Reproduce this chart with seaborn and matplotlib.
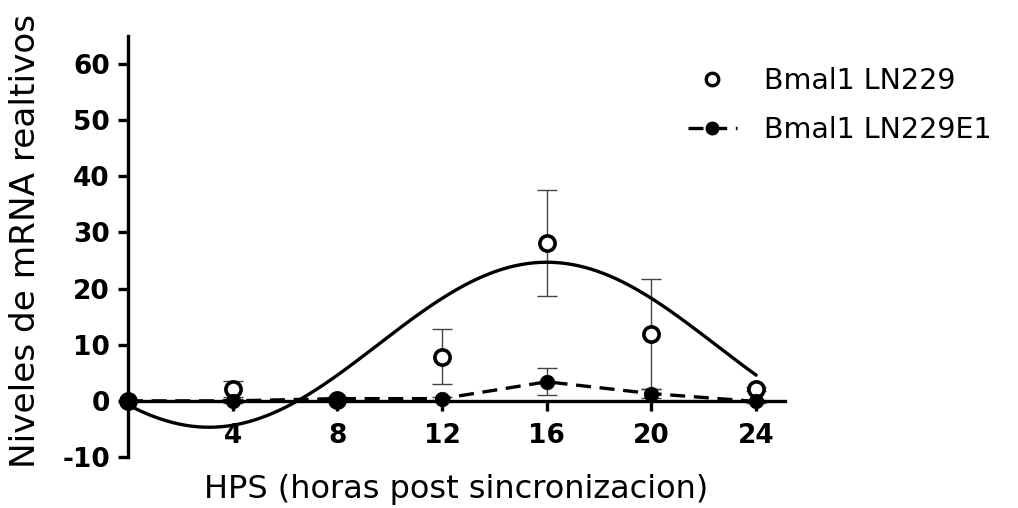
import numpy as np
import pandas as pd
import matplotlib
matplotlib.use("Agg")
import matplotlib.pyplot as plt
import seaborn as sns
from matplotlib.lines import Line2D

# ---- data ----
hours = [0, 4, 8, 12, 16, 20, 24]
ln229_mean = [0.0, 2.1, 0.2, 7.9, 28.1, 12.0, 2.1]
ln229_err = [0.0, 1.5, 0.3, 4.9, 9.4, 9.8, 0.3]
e1_mean = [0.0, 0.0, 0.4, 0.4, 3.4, 1.3, -0.1]
e1_err = [0.0, 0.3, 0.3, 0.3, 2.4, 0.8, 0.2]

# cosinor fit parameters of the LN229 curve (as drawn in the reference)
fit_mesor = 10.0
fit_amplitude = 14.7
fit_acrophase = 16.0
fit_period = 25.8

xtick_values = [4, 8, 12, 16, 20, 24]
ytick_values = [-10, 0, 10, 20, 30, 40, 50, 60]
labels = ["Bmal1 LN229", "Bmal1 LN229E1"]
xlabel = "HPS (horas post sincronizacion)"
ylabel = "Niveles de mRNA realtivos"

sns.set_theme(style="ticks")
plt.rcParams["font.family"] = ["DejaVu Sans"]
plt.rcParams["text.color"] = "black"
plt.rcParams["axes.labelcolor"] = "black"
plt.rcParams["xtick.color"] = "black"
plt.rcParams["ytick.color"] = "black"

fig = plt.figure(figsize=(10.18, 5.08), dpi=100)
ax = fig.add_axes([0.1257, 0.1004, 0.6454, 0.8287])

# fitted curve
t_fit = np.linspace(0, 24, 300)
y_fit = fit_mesor + fit_amplitude * np.cos(2 * np.pi * (t_fit - fit_acrophase) / fit_period)
curve = pd.DataFrame({"t": t_fit, "y": y_fit})
sns.lineplot(data=curve, x="t", y="y", ax=ax, color="black", lw=2.4, zorder=3)

# E1 dashed line
df_e1 = pd.DataFrame({"t": hours, "y": e1_mean})
sns.lineplot(data=df_e1, x="t", y="y", ax=ax, color="black", lw=2.4,
             linestyle=(0, (4.5, 2.6)), zorder=3)

# error bars
ax.errorbar(hours, ln229_mean, yerr=ln229_err, fmt="none", ecolor="#444444",
            elinewidth=1.0, capsize=7, capthick=1.0, zorder=2)
ax.errorbar(hours, e1_mean, yerr=e1_err, fmt="none", ecolor="#444444",
            elinewidth=1.0, capsize=7, capthick=1.0, zorder=2)

# markers
df_ln = pd.DataFrame({"t": hours, "y": ln229_mean})
sns.scatterplot(data=df_ln, x="t", y="y", ax=ax, marker="o", s=120,
                facecolor="white", edgecolor="black", linewidth=2.6,
                zorder=5, clip_on=False)
sns.scatterplot(data=df_e1, x="t", y="y", ax=ax, marker="o", s=110,
                color="black", edgecolor="black", linewidth=0.5,
                zorder=6, clip_on=False)

ax.spines["top"].set_visible(False)
ax.spines["right"].set_visible(False)
ax.spines["bottom"].set_position(("data", 0))
for s in ("left", "bottom"):
    ax.spines[s].set_linewidth(2.4)
    ax.spines[s].set_color("black")

ax.set_xlim(0, 25.1)
ax.set_ylim(-10, 65)
ax.set_xticks(xtick_values)
ax.set_yticks(ytick_values)
ax.set_xticklabels([str(v) for v in xtick_values], fontsize=19, fontweight="bold", color="black")
ax.set_yticklabels([str(v) for v in ytick_values], fontsize=19, fontweight="bold", color="black")
ax.tick_params(axis="both", direction="out", length=7, width=2.4, color="black")
ax.tick_params(axis="x", pad=9)
ax.tick_params(axis="y", pad=6)

ax.set_xlabel(xlabel, fontsize=23, color="black")
ax.set_ylabel(ylabel, fontsize=24.7, color="black")
ax.xaxis.set_label_coords(0.5, -0.04)
ax.yaxis.set_label_coords(-0.131, 0.514)

handles = [
    Line2D([], [], linestyle="none", marker="o", markersize=9, markerfacecolor="white",
           markeredgecolor="black", markeredgewidth=2.4),
    Line2D([], [], color="black", lw=2.4, linestyle=(0, (4.5, 2.6)), marker="o",
           markersize=9, markerfacecolor="black", markeredgecolor="black"),
]
fig.legend(handles, labels, loc="upper left", bbox_to_anchor=(0.676, 0.868),
           frameon=False, fontsize=20.5, handlelength=1.7, handletextpad=0.95,
           labelspacing=0.75, borderpad=0, borderaxespad=0)

fig.savefig("out.png", dpi=100)
